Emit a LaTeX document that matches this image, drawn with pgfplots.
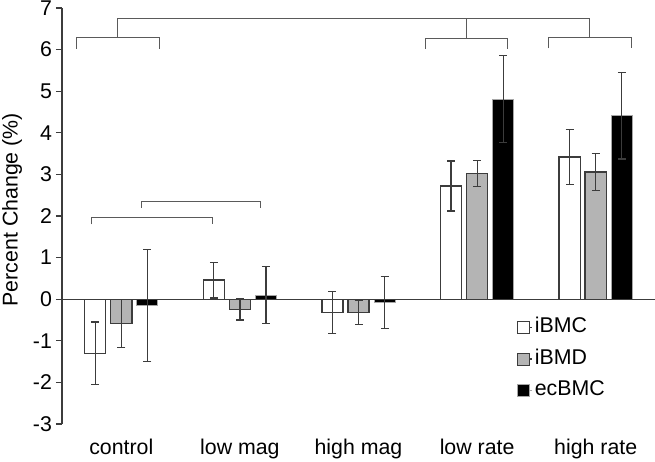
\documentclass[border=0pt]{standalone}
\usepackage{pgfplots}
\pgfplotsset{compat=1.18}
\usepackage{fontspec}
\setmainfont{Liberation Sans}
\definecolor{axcol}{HTML}{3C3C3C}
\definecolor{barfill}{HTML}{B4B4B4}
\definecolor{brk}{HTML}{5A5A5A}
\begin{document}
\begin{tikzpicture}
\useasboundingbox (-46.5pt,-27.75pt) rectangle (444.75pt,318pt);
\begin{axis}[
  scale only axis,
  width=444.75pt, height=312pt,
  xmin=-0.5, xmax=4.5, ymin=-3, ymax=7,
  axis y line*=left, axis x line*=bottom,
  x axis line style={draw=none},
  y axis line style={draw=axcol, line width=1pt},
  xtick={0,1,2,3,4},
  xticklabels={control,low mag,high mag,low rate,high rate},
  xtick style={draw=none},
  ytick={-3,-2,-1,0,1,2,3,4,5,6,7},
  ytick style={draw=axcol, line width=1pt},
  tick align=outside, major tick length=4.5pt,
  /pgf/number format/assume math mode=true,
  font=\fontsize{16}{19}\selectfont,
  ticklabel style={font=\fontsize{16}{19}\selectfont},
  yticklabel style={xshift=0.5pt},
  xticklabel style={yshift=-3pt},
  ylabel={Percent Change (\%)},
  ylabel style={at={(axis description cs:-0.0843,0.515)}, anchor=center, font=\fontsize{16}{19}\selectfont},
  ybar, bar width=0.178, 
  clip=false,
  legend style={draw=none, fill=none, at={(rel axis cs:0.767,0.262)}, anchor=north west,
    font=\fontsize{16}{19}\selectfont, row sep=5.75pt, inner sep=0pt,
    cells={anchor=west},
    nodes={text height=11.5pt, text depth=3.5pt, inner sep=1.5pt}},
  legend image code/.code={\draw[#1, line width=0.6pt] (0pt,-4.5pt) rectangle (9pt,4.5pt); \path (9pt,0pt) -- (11pt,0pt);},
  error bars/y dir=both, error bars/y explicit,
  error bars/error bar style={line width=0.9pt, draw=axcol},
  error bars/error mark options={rotate=90, mark size=3pt, line width=0.9pt, draw=axcol},
]
\addplot[bar shift=0pt, fill=white, draw=axcol, line width=1pt]
  coordinates {(-0.22,-1.30) +- (0,0.75) (0.78,0.46) +- (0,0.43) (1.78,-0.32) +- (0,0.50) (2.78,2.72) +- (0,0.60) (3.78,3.42) +- (0,0.66)};
\addlegendentry{iBMC}
\addplot[bar shift=0pt, fill=barfill, draw=axcol, line width=1pt]
  coordinates {(0,-0.58) +- (0,0.58) (1,-0.24) +- (0,0.26) (2,-0.32) +- (0,0.29) (3,3.02) +- (0,0.32) (4,3.06) +- (0,0.44)};
\addlegendentry{iBMD}
\addplot[bar shift=0pt, fill=black, draw=gray!70, line width=0.8pt]
  coordinates {(0.22,-0.15) +- (0,1.35) (1.22,0.10) +- (0,0.68) (2.22,-0.08) +- (0,0.62) (3.22,4.81) +- (0,1.04) (4.22,4.41) +- (0,1.04)};
\addlegendentry{ecBMC}
% zero line
\addplot[sharp plot, draw=axcol, line width=1pt, forget plot, no marks, error bars/y dir=none]
  coordinates {(-0.5,0) (4.5,0)};
% significance brackets
\addplot[sharp plot, draw=brk, line width=0.8pt, forget plot, no marks, error bars/y dir=none]
  coordinates {(-0.375,6.02) (-0.375,6.28) (0.324,6.28) (0.324,6.02)};
\addplot[sharp plot, draw=brk, line width=0.8pt, forget plot, no marks, error bars/y dir=none]
  coordinates {(2.562,6.02) (2.562,6.27) (3.26,6.27) (3.26,6.02)};
\addplot[sharp plot, draw=brk, line width=0.8pt, forget plot, no marks, error bars/y dir=none]
  coordinates {(3.60,6.03) (3.60,6.30) (4.30,6.30) (4.30,6.03)};
\addplot[sharp plot, draw=brk, line width=0.8pt, forget plot, no marks, error bars/y dir=none]
  coordinates {(-0.034,6.28) (-0.034,6.74) (3.95,6.74) (3.95,6.30)};
\addplot[sharp plot, draw=brk, line width=0.8pt, forget plot, no marks, error bars/y dir=none]
  coordinates {(2.91,6.74) (2.91,6.27)};
\addplot[sharp plot, draw=brk, line width=0.8pt, forget plot, no marks, error bars/y dir=none]
  coordinates {(-0.248,1.80) (-0.248,1.96) (0.772,1.96) (0.772,1.80)};
\addplot[sharp plot, draw=brk, line width=0.8pt, forget plot, no marks, error bars/y dir=none]
  coordinates {(0.167,2.20) (0.167,2.34) (1.173,2.34) (1.173,2.20)};
\end{axis}
\end{tikzpicture}
\end{document}
